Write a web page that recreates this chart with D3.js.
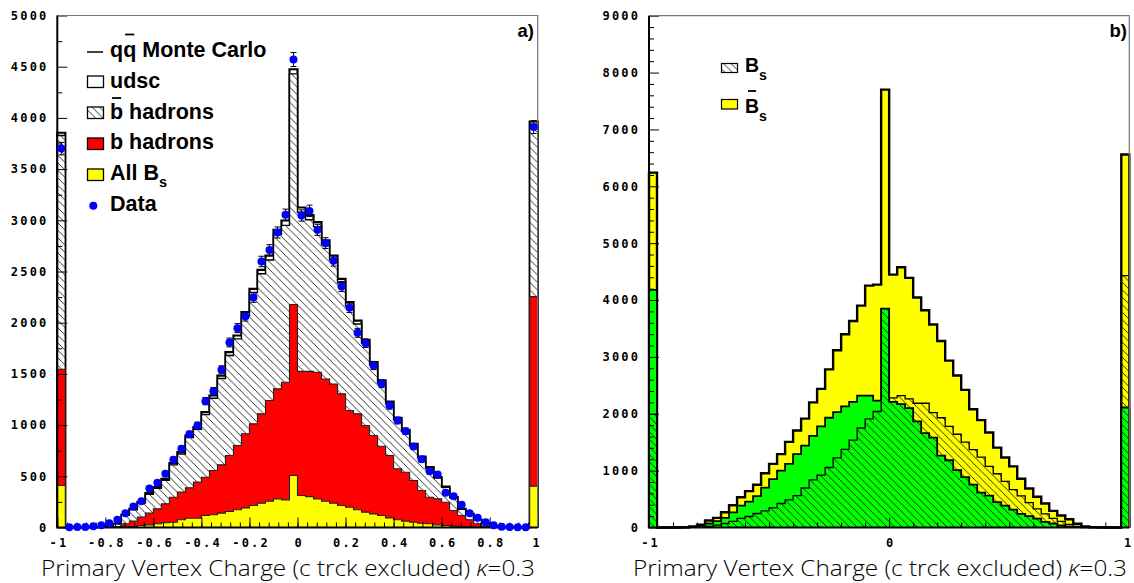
<!DOCTYPE html>
<html><head><meta charset="utf-8">
<script src="https://d3js.org/d3.v7.min.js"></script>
<style>
body{margin:0;background:#fff;}
svg{display:block;}
.tick text{font-family:"DejaVu Sans Mono",monospace;font-weight:bold;font-size:12px;letter-spacing:2.2px;fill:#000;}
.tick line{stroke:#000;stroke-width:1;}
.leg{font-family:"Liberation Sans",Arial,sans-serif;font-weight:bold;fill:#000;}
.title{font-family:"Open Sans","DejaVu Sans",sans-serif;font-size:22px;font-weight:300;fill:#000;}
</style></head><body>
<svg id="chart" width="1134" height="583"></svg>
<script>
// 60 equal bins over the charge range [-1, 1]
const nBins = 60;
const binEdges = d3.range(nBins + 1).map(i => -1 + 2 * i / nBins);

// ---- panel a) : each Monte Carlo histogram holds its cumulative content ----
const mcTotal = [3855, 2, 2, 3, 4, 6, 12, 36, 124, 182, 247, 335, 394, 475, 628, 736, 898, 980, 1126, 1289,
  1484, 1712, 1875, 2103, 2331, 2516, 2656, 2907, 2998, 4475, 3125, 3050, 2982, 2803, 2656, 2428, 2200, 2021, 1833, 1615,
  1436, 1230, 1071, 954, 817, 693, 589, 491, 400, 296, 182, 133, 75, 42, 16, 6, 3, 2, 1, 3965];
const bAndBbarHadrons = [3828, 2, 2, 3, 4, 6, 11, 33, 118, 174, 238, 324, 382, 462, 612, 718, 878, 958, 1102, 1262,
  1455, 1680, 1842, 2068, 2295, 2478, 2612, 2862, 2950, 4430, 3078, 3005, 2938, 2760, 2615, 2390, 2165, 1988, 1802, 1588,
  1410, 1208, 1052, 936, 802, 680, 578, 482, 392, 290, 178, 130, 73, 41, 15, 5, 2, 1, 1, 3935];
const bHadrons = [1545, 0, 0, 0, 1, 2, 3, 10, 36, 62, 101, 140, 182, 231, 296, 345, 387, 443, 491, 557,
  612, 703, 801, 915, 1012, 1110, 1240, 1354, 1419, 2178, 1525, 1525, 1515, 1450, 1400, 1305, 1143, 1110, 996, 898,
  794, 703, 573, 540, 459, 361, 296, 280, 247, 166, 117, 75, 36, 15, 5, 2, 0, 0, 0, 2255];
const allBs = [410, 0, 0, 0, 0, 1, 2, 4, 6, 10, 20, 26, 36, 46, 52, 75, 91, 91, 117, 124,
  140, 156, 173, 192, 215, 238, 257, 280, 270, 508, 312, 302, 280, 257, 238, 215, 198, 173, 150, 133,
  117, 94, 75, 62, 52, 42, 36, 26, 20, 13, 7, 4, 2, 1, 0, 0, 0, 0, 0, 404];
const dataCounts = [3700, 3, 4, 6, 12, 22, 42, 75, 140, 205, 257, 381, 436, 524, 661, 768, 911, 996, 1234, 1331,
  1540, 1807, 1947, 2061, 2246, 2598, 2710, 2881, 3054, 4570, 3047, 3092, 2907, 2777, 2604, 2354, 2145, 1901, 1800, 1582,
  1403, 1191, 1045, 941, 791, 667, 550, 518, 339, 306, 222, 140, 95, 52, 23, 8, 4, 3, 2, 3910];
const dataErrors = [61, 2, 2, 2, 3, 5, 6, 9, 12, 14, 16, 20, 21, 23, 26, 28, 30, 32, 35, 36,
  39, 43, 44, 45, 47, 51, 52, 54, 55, 68, 55, 56, 54, 53, 51, 49, 46, 44, 42, 40,
  37, 35, 32, 31, 28, 26, 23, 23, 18, 17, 15, 12, 10, 7, 5, 3, 2, 2, 1, 63];

// ---- panel b) ----
const bsSum = [6240, 0, 0, 0, 3, 18, 50, 123, 170, 267, 392, 533, 640, 753, 955, 1119, 1290, 1505, 1705, 1915,
  2200, 2437, 2780, 3117, 3398, 3632, 3902, 4254, 4271, 7700, 4447, 4576, 4389, 4045, 3820, 3570, 3280, 2935, 2672, 2420,
  2080, 1888, 1670, 1405, 1230, 1075, 856, 685, 540, 422, 293, 211, 145, 65, 20, 6, 2, 0, 0, 6560];
const bsbarCounts = [4180, 0, 0, 0, 1, 5, 32, 70, 112, 170, 265, 385, 455, 550, 700, 850, 1000, 1120, 1290, 1440,
  1610, 1780, 1930, 2030, 2130, 2210, 2320, 2320, 2232, 3850, 2210, 2170, 2100, 1865, 1660, 1580, 1265, 1183, 1008, 885,
  753, 612, 562, 445, 386, 315, 240, 200, 155, 100, 70, 35, 15, 5, 2, 0, 0, 0, 0, 2110];
const bsCounts = [1990, 0, 0, 0, 0, 2, 8, 20, 42, 70, 108, 160, 193, 246, 293, 346, 422, 486, 562, 695,
  838, 920, 1055, 1224, 1374, 1537, 1750, 1910, 2040, 3850, 2280, 2320, 2262, 2185, 2185, 2020, 1930, 1780, 1640, 1500,
  1370, 1236, 1075, 945, 812, 665, 555, 436, 328, 240, 160, 108, 53, 20, 8, 2, 0, 0, 0, 4430];

// axis ticks
const yMajorA = d3.range(0, 5001, 500);
const yMinorA = d3.range(250, 5000, 500);
const xMajorA = [-1, -0.8, -0.6, -0.4, -0.2, 0, 0.2, 0.4, 0.6, 0.8, 1];
const xMinorA = d3.range(-0.96, 0.97, 0.04).map(v => +v.toFixed(2));
const yMajorB = d3.range(0, 9001, 1000);
const yMinorB = d3.range(200, 9000, 200).filter(v => v % 1000 !== 0);
const xMajorB = [-1, 0, 1];
const xMinorB = d3.range(-0.9, 0.95, 0.1).map(v => +v.toFixed(1)).filter(v => v !== 0);

const svg = d3.select("#chart");
const defs = svg.append("defs");
function hatch(id, bg) {
  const s = 7.5;
  const p = defs.append("pattern").attr("id", id).attr("patternUnits", "userSpaceOnUse")
    .attr("width", s).attr("height", s);
  if (bg) p.append("rect").attr("width", s).attr("height", s).attr("fill", bg);
  p.append("path").attr("d", `M-1,-1L${s + 1},${s + 1}M-1,${s - 1}L1,${s + 1}M${s - 1},-1L${s + 1},1`)
    .attr("stroke", "#000").attr("stroke-width", 0.8).attr("fill", "none");
}
hatch("hatchWhite", "#fff");
hatch("hatchClear", null);

const stepPath = (x, y, vals) => {
  let d = `M${x(binEdges[0])},${y(0)}`;
  vals.forEach((v, i) => { d += `V${y(v)}H${x(binEdges[i + 1])}`; });
  return d + `V${y(0)}`;
};

function histo(g, x, y, vals, fill, stroke, sw) {
  g.append("path").attr("d", stepPath(x, y, vals))
    .attr("fill", fill).attr("stroke", stroke).attr("stroke-width", sw)
    .attr("stroke-linejoin", "miter");
}

const fmtX = d => (d < 0 ? "-" : "") + d3.format("")(Math.abs(+d.toFixed(1)));

function axes(g, x, y, cfg) {
  const x0 = x.range()[0], x1 = x.range()[1], y0 = y.range()[0], y1 = y.range()[1];
  const strip = a => a.select(".domain").remove();
  g.append("g").attr("transform", `translate(${x0},0)`)
    .call(d3.axisLeft(y).tickValues(cfg.yMinor).tickSize(-5).tickFormat("")).call(strip);
  g.append("g").attr("transform", `translate(${x0},0)`)
    .call(d3.axisLeft(y).tickValues(cfg.yMajor).tickSize(-10).tickPadding(11).tickFormat(d3.format("d"))).call(strip)
    .selectAll("text").attr("dx", "2.2px");
  g.append("g").attr("transform", `translate(0,${y0})`)
    .call(d3.axisBottom(x).tickValues(cfg.xMinor).tickSize(-5).tickFormat("")).call(strip);
  const xt = g.append("g").attr("transform", `translate(0,${y0})`)
    .call(d3.axisBottom(x).tickValues(cfg.xMajor).tickSize(-10).tickPadding(11).tickFormat(fmtX)).call(strip);
  xt.selectAll("text").attr("dx", d => d === 1 ? "-1px" : "1.1px");
  // frame: light top/right, heavy axes
  g.append("path").attr("d", `M${x0},${y1}H${x1}V${y0}`).attr("fill", "none")
    .attr("stroke", "#777").attr("stroke-width", 1.2);
  g.append("path").attr("d", `M${x0},${y1}V${y0}H${x1}`).attr("fill", "none")
    .attr("stroke", "#000").attr("stroke-width", 2);
}

function title(g, cx, width) {
  const t = g.append("text").attr("class", "title").attr("x", cx).attr("y", 576)
    .attr("text-anchor", "middle").attr("textLength", width).attr("lengthAdjust", "spacingAndGlyphs");
  t.append("tspan").text("Primary Vertex Charge (c trck excluded) ");
  t.append("tspan").attr("font-style", "italic").text("\u03ba");
  t.append("tspan").text("=0.3");
}

// ================= panel a) =================
{
  const x = d3.scaleLinear().domain([-1, 1]).range([57.3, 537.7]);
  const y = d3.scaleLinear().domain([0, 5000]).range([527.5, 15.5]);
  const g = svg.append("g");
  histo(g, x, y, mcTotal, "#fff", "#000", 2.2);
  histo(g, x, y, bAndBbarHadrons, "url(#hatchWhite)", "#000", 1.4);
  histo(g, x, y, bHadrons, "#ff0000", "#222", 1.1);
  histo(g, x, y, allBs, "#ffff00", "#222", 1.1);
  axes(g, x, y, { yMajor: yMajorA, yMinor: yMinorA, xMajor: xMajorA, xMinor: xMinorA });

  // data points with statistical errors
  const pts = dataCounts.map((v, i) => ({ c: (binEdges[i] + binEdges[i + 1]) / 2, v, e: dataErrors[i] }));
  const dg = g.append("g");
  pts.forEach(p => {
    const cx = x(p.c);
    dg.append("path").attr("d",
      `M${cx},${y(p.v - p.e)}V${y(p.v + p.e)}M${cx - 3},${y(p.v - p.e)}H${cx + 3}M${cx - 3},${y(p.v + p.e)}H${cx + 3}`)
      .attr("stroke", "#000").attr("stroke-width", 1).attr("fill", "none");
  });
  dg.selectAll("circle").data(pts).join("circle")
    .attr("cx", d => x(d.c)).attr("cy", d => y(d.v)).attr("r", 4).attr("fill", "#0000ff");

  // legend
  const lg = g.append("g");
  lg.append("line").attr("x1", 87).attr("x2", 103).attr("y1", 52).attr("y2", 52).attr("stroke", "#000").attr("stroke-width", 1.5);
  const boxes = [[76, "#fff"], [107, "url(#hatchWhite)"], [138, "#ff0000"], [169, "#ffff00"]];
  boxes.forEach(([top, f]) => lg.append("rect").attr("x", 87.5).attr("y", top).attr("width", 16).attr("height", 11.5)
    .attr("fill", f).attr("stroke", "#000").attr("stroke-width", 1.3));
  lg.append("circle").attr("cx", 93.3).attr("cy", 205.7).attr("r", 4).attr("fill", "#0000ff");
  const fs = 21.5;
  const t1 = lg.append("text").attr("class", "leg").attr("x", 110).attr("y", 57).attr("font-size", fs).text("qq Monte Carlo");
  lg.append("text").attr("class", "leg").attr("x", 110).attr("y", 87.5).attr("font-size", fs).text("udsc");
  const t3 = lg.append("text").attr("class", "leg").attr("x", 110).attr("y", 118.5).attr("font-size", fs).text("b hadrons");
  lg.append("text").attr("class", "leg").attr("x", 110).attr("y", 148.5).attr("font-size", fs).text("b hadrons");
  const t5 = lg.append("text").attr("class", "leg").attr("x", 110).attr("y", 180).attr("font-size", fs);
  t5.append("tspan").text("All B");
  t5.append("tspan").attr("font-size", 14.5).attr("dy", 7).text("s");
  lg.append("text").attr("class", "leg").attr("x", 110).attr("y", 210.5).attr("font-size", fs).text("Data");
  [[t1, 1, -22.5], [t3, 0, -20.5]].forEach(([t, ci, lift]) => {
    const ext = t.node().getExtentOfChar(ci);
    lg.append("line").attr("x1", ext.x + 2).attr("x2", ext.x + ext.width - 2)
      .attr("y1", +t.attr("y") + lift).attr("y2", +t.attr("y") + lift)
      .attr("stroke", "#000").attr("stroke-width", 1.8);
  });
  g.append("text").attr("class", "leg").attr("x", 534).attr("y", 37).attr("text-anchor", "end")
    .attr("font-size", 18.5).text("a)");
  title(g, 288, 494);
}

// ================= panel b) =================
{
  const x = d3.scaleLinear().domain([-1, 1]).range([649, 1129.3]);
  const y = d3.scaleLinear().domain([0, 9000]).range([527.5, 15.7]);
  const g = svg.append("g");
  histo(g, x, y, bsSum, "#ffff00", "#000", 2.4);
  histo(g, x, y, bsbarCounts, "#00ff00", "#000", 1.8);
  histo(g, x, y, bsCounts, "url(#hatchClear)", "#000", 1.3);
  axes(g, x, y, { yMajor: yMajorB, yMinor: yMinorB, xMajor: xMajorB, xMinor: xMinorB });

  const lg = g.append("g");
  lg.append("rect").attr("x", 721.5).attr("y", 63.5).attr("width", 16).attr("height", 9)
    .attr("fill", "url(#hatchWhite)").attr("stroke", "#000").attr("stroke-width", 1.2);
  lg.append("rect").attr("x", 721.5).attr("y", 99.5).attr("width", 16).attr("height", 9.5)
    .attr("fill", "#ffff00").attr("stroke", "#000").attr("stroke-width", 1.2);
  const b1 = lg.append("text").attr("class", "leg").attr("x", 745).attr("y", 71.7).attr("font-size", 19.5);
  b1.append("tspan").text("B");
  b1.append("tspan").attr("font-size", 14).attr("dy", 8.5).text("s");
  const b2 = lg.append("text").attr("class", "leg").attr("x", 745).attr("y", 112.7).attr("font-size", 19.5);
  b2.append("tspan").text("B");
  b2.append("tspan").attr("font-size", 14).attr("dy", 8.5).text("s");
  const ext = b2.node().getExtentOfChar(0);
  lg.append("line").attr("x1", ext.x + 3).attr("x2", ext.x + ext.width - 3)
    .attr("y1", 91).attr("y2", 91).attr("stroke", "#000").attr("stroke-width", 1.8);
  g.append("text").attr("class", "leg").attr("x", 1127).attr("y", 37).attr("text-anchor", "end")
    .attr("font-size", 18.5).text("b)");
  title(g, 880, 494);
}
</script>
</body></html>
